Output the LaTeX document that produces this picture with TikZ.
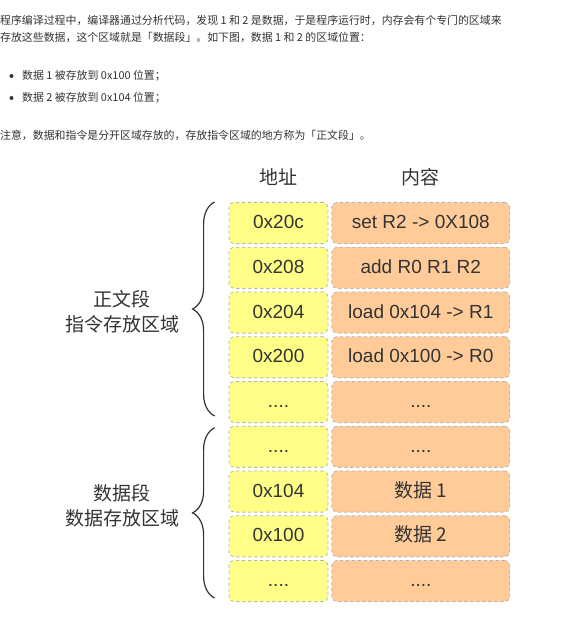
\documentclass[tikz,border=0pt]{standalone}
\usepackage{fontspec}
\setmainfont{Liberation Sans}
\newfontfamily\cjk{Noto Sans CJK SC}
\usepackage{xcolor}
\usetikzlibrary{positioning, decorations.pathreplacing}
\definecolor{addrfill}{HTML}{FFFF88}
\definecolor{contfill}{HTML}{FFCC99}
\definecolor{cellline}{HTML}{B3B3B3}
\definecolor{inkgray}{HTML}{333333}
\begin{document}
\begin{tikzpicture}[x=1pt, y=1pt, node distance=2.75pt]
\tikzstyle{cell} = [rectangle, draw=cellline, dashed, line width=0.8pt, rounded corners=5pt, minimum height=41.2pt, inner sep=0pt, text height=14pt, text depth=3pt, text=inkgray, font=\fontsize{19}{22}\selectfont]
\tikzstyle{addr} = [cell, fill=addrfill, minimum width=99pt]
\tikzstyle{cont} = [cell, fill=contfill, minimum width=178pt]
\tikzstyle{hdr} = [font=\cjk\fontsize{19}{22}\selectfont, text=inkgray]
\tikzstyle{lbl} = [align=center, font=\cjk\fontsize{19}{25}\selectfont, text=inkgray]
\tikzstyle{para} = [anchor=west, inner sep=0pt, font=\cjk\fontsize{10.9}{13}\selectfont, text=inkgray]
\tikzstyle{brc} = [draw=inkgray, line width=1.2pt, decorate, decoration={brace, amplitude=22pt}]
\useasboundingbox (0,0) rectangle (567,-620);
% text above the picture
\node [para] (p1) at (0,-20) {程序编译过程中，编译器通过分析代码，发现 1 和 2 是数据，于是程序运行时，内存会有个专门的区域来};
\node [para] (p2) at (0,-37) {存放这些数据，这个区域就是「数据段」。如下图，数据 1 和 2 的区域位置：};
\fill [inkgray] (11.5,-76) circle (2pt);
\node [para] (b1) at (22,-76) {数据 1 被存放到 0x100 位置；};
\fill [inkgray] (11.5,-98) circle (2pt);
\node [para] (b2) at (22,-98) {数据 2 被存放到 0x104 位置；};
\node [para] (p3) at (0,-135) {注意，数据和指令是分开区域存放的，存放指令区域的地方称为「正文段」。};
% memory table
\node [hdr] (haddr) at (278.5,-177) {地址};
\node [hdr] (hcont) at (420,-177) {内容};
\node [addr] (a1) at (278.5,-223) {0x20c};
\node [addr, below=of a1] (a2) {0x208};
\node [addr, below=of a2] (a3) {0x204};
\node [addr, below=of a3] (a4) {0x200};
\node [addr, below=of a4] (a5) {....};
\node [addr, below=of a5] (a6) {....};
\node [addr, below=of a6] (a7) {0x104};
\node [addr, below=of a7] (a8) {0x100};
\node [addr, below=of a8] (a9) {....};
\node [cont, right=3pt of a1] (c1) {set R2 -> 0X108};
\node [cont, right=3pt of a2] (c2) {add R0 R1 R2};
\node [cont, right=3pt of a3] (c3) {load 0x104 -> R1};
\node [cont, right=3pt of a4] (c4) {load 0x100 -> R0};
\node [cont, right=3pt of a5] (c5) {....};
\node [cont, right=3pt of a6] (c6) {....};
\node [cont, right=3pt of a7, font=\cjk\fontsize{19}{22}\selectfont] (c7) {数据 1};
\node [cont, right=3pt of a8, font=\cjk\fontsize{19}{22}\selectfont] (c8) {数据 2};
\node [cont, right=3pt of a9] (c9) {....};
% segments
\draw [brc] ([xshift=-14pt, yshift=7pt]a5.south west) -- ([xshift=-14pt]a1.north west);
\draw [brc] ([xshift=-14pt, yshift=4pt]a9.south west) -- ([xshift=-14pt, yshift=-2pt]a6.north west);
\node [lbl] (ltext) at (122,-312) {正文段\\指令存放区域};
\node [lbl] (ldata) at (122,-506) {数据段\\数据存放区域};
\end{tikzpicture}
\end{document}
